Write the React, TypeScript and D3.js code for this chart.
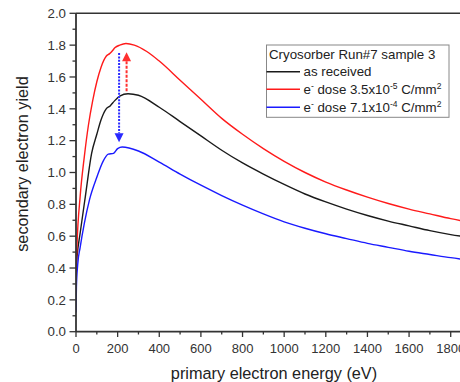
import React from "react";
import * as d3 from "d3";

const energyRed = [0, 5, 20, 40, 60, 80, 100, 120, 145, 160, 172, 188, 210, 240, 280, 340, 400, 500, 600, 700, 800, 900, 1000, 1100, 1200, 1300, 1400, 1500, 1600, 1700, 1800, 1900];
const yieldRed = [0.34, 0.55, 0.85, 1.1, 1.3, 1.45, 1.57, 1.66, 1.73, 1.745, 1.76, 1.785, 1.8, 1.81, 1.8, 1.76, 1.7, 1.58, 1.46, 1.34, 1.24, 1.15, 1.07, 1.0, 0.94, 0.89, 0.845, 0.805, 0.77, 0.74, 0.71, 0.685];

const energyBlack = [0, 5, 20, 45, 75, 100, 120, 145, 165, 185, 210, 250, 300, 400, 500, 600, 700, 800, 900, 1000, 1100, 1200, 1300, 1400, 1500, 1600, 1700, 1800, 1900];
const yieldBlack = [0.38, 0.47, 0.62, 0.85, 1.12, 1.24, 1.33, 1.4, 1.42, 1.45, 1.48, 1.495, 1.485, 1.41, 1.32, 1.23, 1.14, 1.06, 0.99, 0.925, 0.865, 0.815, 0.77, 0.73, 0.695, 0.665, 0.635, 0.61, 0.59];

const energyBlue = [0, 2, 8, 20, 40, 65, 100, 130, 155, 180, 200, 222, 300, 400, 500, 600, 700, 800, 900, 1000, 1100, 1200, 1300, 1400, 1500, 1600, 1700, 1800, 1900];
const yieldBlue = [0.12, 0.28, 0.42, 0.53, 0.68, 0.83, 0.97, 1.07, 1.115, 1.12, 1.15, 1.16, 1.135, 1.065, 0.99, 0.92, 0.855, 0.795, 0.74, 0.69, 0.65, 0.615, 0.585, 0.555, 0.53, 0.505, 0.485, 0.465, 0.448];

const xTicks = [0, 200, 400, 600, 800, 1000, 1200, 1400, 1600, 1800];
const yTicks = [0.0, 0.2, 0.4, 0.6, 0.8, 1.0, 1.2, 1.4, 1.6, 1.8, 2.0];

// arrows: [energy, from yield, to yield]
const blueArrow = [207, 1.75, 1.19];
const redArrow = [243, 1.51, 1.755];

const legendTitle = "Cryosorber Run#7 sample 3";

const W = 460;
const H = 382;
const FONT = "Liberation Sans, Arial, sans-serif";

export default function App() {
  const x = d3.scaleLinear().domain([0, 1900]).range([76, 76 + 0.20817 * 1900]);
  const y = d3.scaleLinear().domain([0, 2]).range([331.7, 13.3]);
  const line = d3
    .line<[number, number]>()
    .x((d) => x(d[0]))
    .y((d) => y(d[1]))
    .curve(d3.curveMonotoneX);

  const series = [
    { e: energyBlack, v: yieldBlack, c: "#1a1a1a" },
    { e: energyRed, v: yieldRed, c: "#ff1a1a" },
    { e: energyBlue, v: yieldBlue, c: "#1a1aff" },
  ];

  const minorX = d3.range(0, 1901, 100);
  const minorY = d3.range(0, 2.001, 0.1);
  const axisColor = "#333";

  const arrow = (a: number[], color: string, dash: string) => {
    const xa = x(a[0]);
    const y1 = y(a[1]);
    const y2 = y(a[2]);
    const dir = y2 > y1 ? 1 : -1;
    const hl = 9;
    const hw = 4.5;
    return (
      <g>
        <line x1={xa} x2={xa} y1={y1} y2={y2 - dir * hl} stroke={color} strokeWidth={2} strokeDasharray={dash} />
        <path d={`M${xa},${y2} L${xa - hw},${y2 - dir * hl} L${xa + hw},${y2 - dir * hl} Z`} fill={color} />
      </g>
    );
  };

  const lx0 = 266.5;
  const lx1 = 300;
  const tx = 303.5;
  const fs = 13.3;

  return (
    <svg width={W} height={H} style={{ position: "absolute", left: 0, top: 0, background: "#fff" }} fontFamily={FONT}>
      <rect x={0} y={0} width={W} height={H} fill="#fff" />
      <defs>
        <clipPath id="plot">
          <rect x={76} y={13} width={400} height={320} />
        </clipPath>
      </defs>
      <g clipPath="url(#plot)">
        {series.map((s, i) => (
          <path
            key={i}
            d={line(s.e.map((e, j) => [e, s.v[j]] as [number, number])) || ""}
            fill="none"
            stroke={s.c}
            strokeWidth={1.4}
          />
        ))}
      </g>
      {arrow(blueArrow, "#2a2aff", "2,1.3")}
      {arrow(redArrow, "#ff3030", "3,1.5")}

      {/* frame */}
      <line x1={76} x2={W} y1={13.3} y2={13.3} stroke={axisColor} strokeWidth={1.5} />
      <line x1={76} x2={W} y1={331.7} y2={331.7} stroke={axisColor} strokeWidth={1.8} />
      <line x1={76} x2={76} y1={13.3} y2={331.7} stroke={axisColor} strokeWidth={1.8} />

      {/* y ticks */}
      {minorY.map((v, i) => (
        <line key={"my" + i} x1={76} x2={i % 2 === 0 ? 69.5 : 72.5} y1={y(v)} y2={y(v)} stroke={axisColor} strokeWidth={1.3} />
      ))}
      {yTicks.map((v, i) => (
        <text key={"ty" + i} x={66} y={y(v)} dy="0.36em" textAnchor="end" fontSize={13.3} fill="#333">
          {v.toFixed(1)}
        </text>
      ))}
      {/* x ticks */}
      {minorX.map((v, i) => (
        <line key={"mx" + i} x1={x(v)} x2={x(v)} y1={331.7} y2={i % 2 === 0 ? 337 : 334.5} stroke={axisColor} strokeWidth={1.3} />
      ))}
      {xTicks.map((v, i) => (
        <text key={"tx" + i} x={x(v)} y={348} dy="0.36em" textAnchor="middle" fontSize={13} fill="#333">
          {v}
        </text>
      ))}

      <text x={274} y={373} dy="0.36em" textAnchor="middle" fontSize={16.3} fill="#222">
        primary electron energy (eV)
      </text>
      <text transform={`translate(22,164) rotate(-90)`} dy="0.36em" textAnchor="middle" fontSize={16.3} fill="#222">
        secondary electron yield
      </text>

      {/* legend */}
      <rect x={266.5} y={45} width={182.5} height={72.3} fill="#fff" stroke="#888" strokeWidth={1} />
      <text x={269} y={54} dy="0.36em" fontSize={fs} fill="#222">
        {legendTitle}
      </text>
      <line x1={lx0} x2={lx1} y1={71.7} y2={71.7} stroke="#1a1a1a" strokeWidth={1.4} />
      <text x={tx} y={71.7} dy="0.36em" fontSize={fs} fill="#222">as received</text>
      <line x1={lx0} x2={lx1} y1={89.3} y2={89.3} stroke="#ff1a1a" strokeWidth={1.4} />
      <text x={tx} y={89.3} dy="0.36em" fontSize={fs} fill="#222">
        e<tspan dy="-5" fontSize={8.5}>-</tspan>
        <tspan dy="5"> dose 3.5x10</tspan>
        <tspan dy="-5" fontSize={8.5}>-5</tspan>
        <tspan dy="5"> C/mm</tspan>
        <tspan dy="-5" fontSize={8.5}>2</tspan>
      </text>
      <line x1={lx0} x2={lx1} y1={107.3} y2={107.3} stroke="#1a1aff" strokeWidth={1.4} />
      <text x={tx} y={107.3} dy="0.36em" fontSize={fs} fill="#222">
        e<tspan dy="-5" fontSize={8.5}>-</tspan>
        <tspan dy="5"> dose 7.1x10</tspan>
        <tspan dy="-5" fontSize={8.5}>-4</tspan>
        <tspan dy="5"> C/mm</tspan>
        <tspan dy="-5" fontSize={8.5}>2</tspan>
      </text>
    </svg>
  );
}
